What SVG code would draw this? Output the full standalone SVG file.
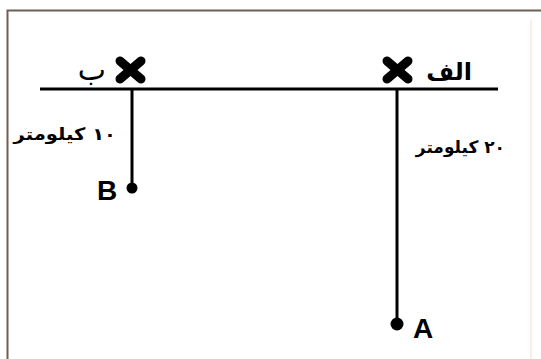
<svg xmlns="http://www.w3.org/2000/svg" width="541" height="359" viewBox="0 0 541 359">
<style>
.frame{fill:none;stroke:#6e5f55;stroke-width:2}
.ln{stroke:#000;stroke-width:3;fill:none}
.x{stroke:#000;stroke-width:9;stroke-linecap:round}
.ar{font-family:"DejaVu Sans",sans-serif;fill:#000}
.km{font-size:17px;font-weight:bold}
.lat{font-family:"Liberation Sans",Arial,sans-serif;font-weight:bold;font-size:28px;fill:#000}
</style>
<rect width="541" height="359" fill="#fff"/>
<path class="frame" d="M7.5,359 V10.5 H541"/>
<line x1="531" y1="20" x2="531" y2="359" stroke="#f7efe9" stroke-width="2"/>
<g id="connectors">
<line class="ln" x1="40" y1="89" x2="498" y2="89"/>
<line class="ln" x1="132" y1="89" x2="132" y2="187"/>
<line class="ln" x1="397" y1="89" x2="397" y2="323"/>
</g>
<g id="pointB">
<line class="x" x1="120" y1="61" x2="141" y2="79"/>
<line class="x" x1="141" y1="61" x2="120" y2="79"/>
<text class="ar" x="106" y="80" font-size="30" direction="rtl">ب</text>
</g>
<g id="pointA">
<line class="x" x1="387" y1="61" x2="408" y2="79"/>
<line class="x" x1="408" y1="61" x2="387" y2="79"/>
<text class="ar" x="472" y="80" font-size="24" font-weight="bold" direction="rtl">الف</text>
</g>
<g id="labelB">
<text class="ar km" transform="translate(116,140) scale(1.15,1)" direction="rtl">۱۰ کیلومتر</text>
</g>
<g id="labelA">
<text class="ar km" transform="translate(505,153) scale(1.0,1)" direction="rtl">۲۰ کیلومتر</text>
</g>
<g id="B">
<circle cx="132" cy="188" r="5.5" fill="#000"/>
<text class="lat" x="97" y="200">B</text>
</g>
<g id="A">
<circle cx="397" cy="324" r="6.5" fill="#000"/>
<text class="lat" x="413" y="338">A</text>
</g>
</svg>
